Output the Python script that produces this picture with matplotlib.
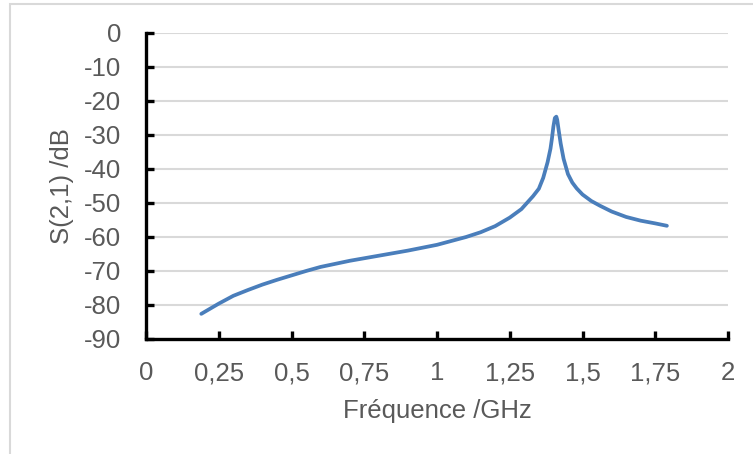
import matplotlib.pyplot as plt
from matplotlib.patches import Rectangle
from matplotlib.ticker import FuncFormatter

# valeurs
freq = [0.19, 0.25, 0.30, 0.35, 0.40, 0.45, 0.50, 0.55, 0.60, 0.65, 0.70,
        0.80, 0.90, 1.00, 1.10, 1.15, 1.20, 1.25, 1.29, 1.33, 1.35, 1.365,
        1.38, 1.39, 1.395, 1.40, 1.405, 1.41, 1.413, 1.418, 1.425, 1.435,
        1.45, 1.465, 1.48, 1.50, 1.53, 1.56, 1.60, 1.65, 1.70, 1.75, 1.79]
s21 = [-82.6, -79.6, -77.3, -75.6, -74.0, -72.6, -71.3, -70.0, -68.8, -67.9,
       -67.0, -65.5, -64.0, -62.3, -60.0, -58.6, -56.8, -54.3, -51.8, -48.0,
       -45.8, -42.6, -38.0, -34.0, -31.0, -27.5, -25.0, -24.6, -25.5, -28.5,
       -32.5, -37.0, -41.5, -44.0, -45.7, -47.5, -49.4, -50.8, -52.5, -54.1,
       -55.2, -56.0, -56.7]

xticks = [0, 0.25, 0.5, 0.75, 1, 1.25, 1.5, 1.75, 2]
yticks = list(range(0, -100, -10))

plt.rcParams['font.family'] = ['Liberation Sans', 'DejaVu Sans']
fig = plt.figure(figsize=(7.53, 4.54), dpi=100)
ax = fig.add_axes([146 / 753, 1 - 339 / 454, (728 - 146) / 753, (339 - 33) / 454])

fig.patches.append(Rectangle((10 / 753, -0.1), 1.2, 1 - 4 / 454 + 0.1,
                             transform=fig.transFigure, fill=False,
                             edgecolor='#d9d9d9', linewidth=1.5))

ax.plot(freq, s21, color='#4a7ebb', linewidth=2.7, solid_capstyle='round',
        solid_joinstyle='round')

ax.set_xlim(0, 2)
ax.set_ylim(-90, 0)
ax.set_xticks(xticks)
ax.set_yticks(yticks)
ax.xaxis.set_major_formatter(FuncFormatter(lambda v, p: ('%g' % v).replace('.', ',')))
ax.yaxis.set_major_formatter(FuncFormatter(lambda v, p: '%d' % v))
ax.grid(axis='y', color='#d9d9d9', linewidth=1.5)
ax.set_axisbelow(True)
for s in ['top', 'right']:
    ax.spines[s].set_visible(False)
for s in ['left', 'bottom']:
    ax.spines[s].set_linewidth(2.4)
    ax.spines[s].set_color('black')
ax.tick_params(direction='in', length=6, width=2.4, colors='black',
               labelcolor='#595959', labelsize=18.5)
ax.tick_params(axis='x', pad=16)
ax.tick_params(axis='y', pad=18)

ax.set_xlabel('Fréquence /GHz', fontsize=18.5, color='#595959', labelpad=10)
ax.set_ylabel('S(2,1) /dB', fontsize=18.5, color='#595959', labelpad=7)

fig.savefig('out.png', dpi=100)
